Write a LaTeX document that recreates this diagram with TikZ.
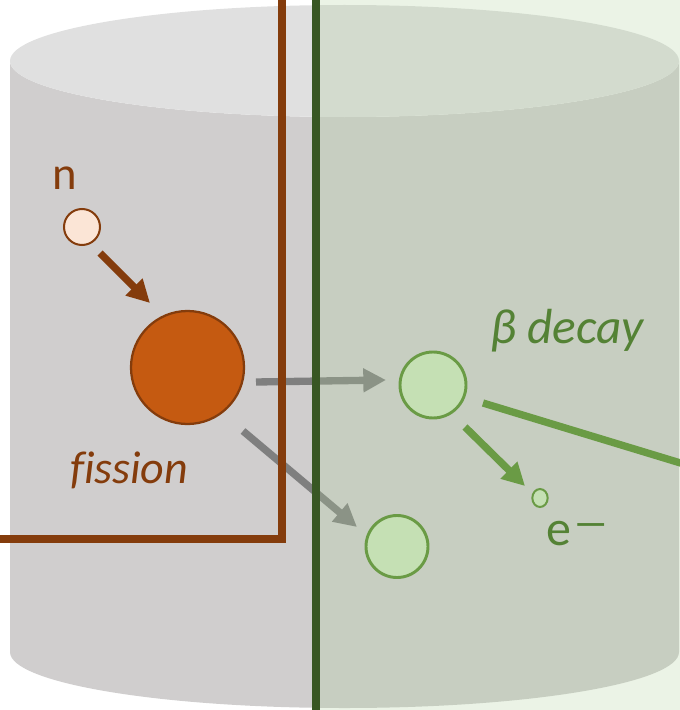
\documentclass[tikz,border=0pt]{standalone}
\usepackage{fontspec}
\usepackage{graphicx}
\setmainfont{Carlito}
\usetikzlibrary{arrows.meta,shapes.geometric}
\definecolor{brownD}{HTML}{843C0C}
\definecolor{orangeF}{HTML}{C55A11}
\definecolor{peach}{HTML}{FBE5D6}
\definecolor{darkG}{HTML}{385723}
\definecolor{midG}{HTML}{6A9B45}
\definecolor{textG}{HTML}{548235}
\definecolor{lightG}{HTML}{C5E0B4}
\definecolor{cylSide}{HTML}{D0CECE}
\definecolor{cylTop}{HTML}{E0E0E0}
\definecolor{overG}{HTML}{B0D09D}
\definecolor{arrGray}{HTML}{7F7F7F}
\tikzset{
  particle/.style={circle, inner sep=0pt, outer sep=0pt},
  fatarrow/.style={line width=5.5pt, -{Triangle[length=17pt,width=17pt]}},
  barline/.style={line width=6pt},
  lbl/.style={inner sep=0pt, outer sep=0pt, anchor=base west}
}
\begin{document}
\begin{tikzpicture}[x=0.75pt,y=-0.75pt]
\useasboundingbox (0,0) rectangle (680,710);
\clip (0,0) rectangle (680,710);
% cylinder
\fill[cylSide] (10,61) -- (10,652) arc[start angle=180, end angle=0, x radius=334.5, y radius=56]
  -- (679,61) arc[start angle=0, end angle=180, x radius=334.5, y radius=56] -- cycle;
\fill[cylTop] (344.5,61) ellipse[x radius=334.5, y radius=56];
% particles
\node[particle, minimum size=27pt, draw=brownD, line width=1.5pt, fill=peach] (n) at (82,227) {};
\node[particle, minimum size=84.75pt, draw=brownD, line width=1.7pt, fill=orangeF] (fis) at (187.5,367.5) {};
\coordinate (b1) at (433,385);
\coordinate (b2) at (397,546.5);
\coordinate (e) at (540,498);
% arrow end points
\coordinate (g1s) at (256,382); \coordinate (g1e) at (386,380);
\coordinate (g2s) at (243,431); \coordinate (g2e) at (357,527);
\coordinate (bas) at (100,253); \coordinate (bae) at (150,303);
\coordinate (gas) at (465,427); \coordinate (gae) at (525,486);
\coordinate (sls) at (483,403); \coordinate (sle) at (720,475);
\coordinate (brT) at (282,-10); \coordinate (brC) at (282,539); \coordinate (brL) at (-10,539);
\coordinate (dgT) at (316,-10); \coordinate (dgB) at (316,720);
% gray arrows (under the green veil)
\draw[fatarrow, arrGray] (g1s) -- (g1e);
\draw[fatarrow, arrGray] (g2s) -- (g2e);
% green veil
\fill[overG, opacity=0.255] (316,-10) rectangle (690,720);
% particles on top of veil
\node[particle, minimum size=49.5pt, draw=midG, line width=2.2pt, fill=lightG] (p1) at (b1) {};
\node[particle, minimum size=46.5pt, draw=midG, line width=2.2pt, fill=lightG] (p2) at (b2) {};
\node[ellipse, inner sep=0pt, minimum width=11.5pt, minimum height=13.5pt, draw=midG, line width=1.5pt, fill=lightG] (pe) at (e) {};
% frame lines
\draw[barline, brownD, line join=miter] (brT) -- (brC) -- (brL);
\draw[barline, darkG] (dgT) -- (dgB);
\draw[line width=5.5pt, midG] (sls) -- (sle);
% colored arrows
\draw[fatarrow, brownD] (bas) -- (bae);
\draw[fatarrow, midG] (gas) -- (gae);
% labels
\node[lbl, text=brownD, font=\fontsize{35pt}{38pt}\selectfont] (nl) at (52,189) {n};
\node[lbl, text=brownD, font=\fontsize{34.5pt}{38pt}\selectfont\itshape] (fl) at (70,483) {f\kern0pt ission};
\node[lbl, text=textG, font=\fontsize{37pt}{40pt}\selectfont\itshape] (bl) at (490,343) {β decay};
\node[lbl, text=textG, font=\fontsize{37.5pt}{40pt}\selectfont] (el) at (546.5,545) {e\kern0.02em\raisebox{0.15em}{\scalebox{1.5}[0.9]{–}}};
\end{tikzpicture}
\end{document}
